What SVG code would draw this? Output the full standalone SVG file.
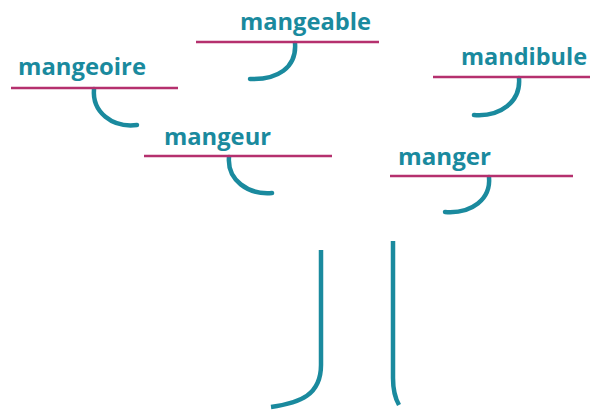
<svg xmlns="http://www.w3.org/2000/svg" width="592" height="412" viewBox="0 0 592 412">
<style>
.lbl{font-family:"Open Sans","Noto Sans","Liberation Sans",sans-serif;font-weight:bold;font-size:24px;fill:#1a8a9e}
.ul{stroke:#b5306e;stroke-width:2.5;fill:none}
.br{stroke:#1a8a9e;stroke-width:4.5;fill:none;stroke-linecap:round}
.tr{stroke:#1a8a9e;stroke-width:4.5;fill:none;stroke-linecap:butt}
</style>
<rect width="592" height="412" fill="#ffffff"/>
<g id="trunk">
<path class="tr" d="M321,250 L321,365 C321,395 300,403 271,407"/>
<path class="tr" d="M393,241 L393,378 C393,390 395,398 399,405"/>
</g>
<g id="connectors">
<path class="br" d="M94,89 C92,112 112,128 137,125"/>
<path class="br" d="M295,43 C297,68 277,80 250,79"/>
<path class="br" d="M519,78 C521,102 500,117 474,115"/>
<path class="br" d="M229,157 C227,180 248,195 272,193"/>
<path class="br" d="M489,177 C491,199 472,214 445,212"/>
</g>
<g id="mangeoire">
<text class="lbl" x="18" y="75" textLength="128" lengthAdjust="spacingAndGlyphs">mangeoire</text>
<line class="ul" x1="11" y1="88" x2="178" y2="88"/>
</g>
<g id="mangeable">
<text class="lbl" x="240" y="30" textLength="131" lengthAdjust="spacingAndGlyphs">mangeable</text>
<line class="ul" x1="196" y1="42" x2="379" y2="42"/>
</g>
<g id="mandibule">
<text class="lbl" x="461" y="65" textLength="126" lengthAdjust="spacingAndGlyphs">mandibule</text>
<line class="ul" x1="433" y1="77" x2="590" y2="77"/>
</g>
<g id="mangeur">
<text class="lbl" x="164" y="145" textLength="107" lengthAdjust="spacingAndGlyphs">mangeur</text>
<line class="ul" x1="144" y1="156" x2="332" y2="156"/>
</g>
<g id="manger">
<text class="lbl" x="398" y="165" textLength="93" lengthAdjust="spacingAndGlyphs">manger</text>
<line class="ul" x1="390" y1="176" x2="573" y2="176"/>
</g>
</svg>
